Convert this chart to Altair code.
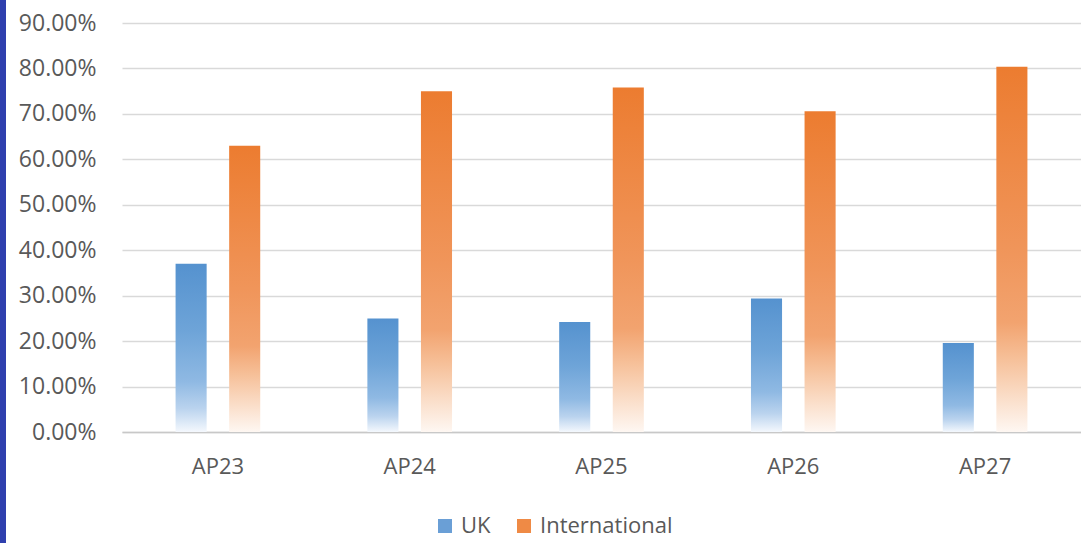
import altair as alt
import pandas as pd

# Share of students by origin for each admission period
categories = ["AP23", "AP24", "AP25", "AP26", "AP27"]
groups = ["UK", "International"]
uk_share = [0.370, 0.250, 0.242, 0.294, 0.196]
intl_share = [0.630, 0.750, 0.758, 0.706, 0.804]
y_ticks = [0.0, 0.1, 0.2, 0.3, 0.4, 0.5, 0.6, 0.7, 0.8, 0.9]

rows = []
for cat, u, i in zip(categories, uk_share, intl_share):
    rows.append({"period": cat, "group": "UK", "share": u})
    rows.append({"period": cat, "group": "International", "share": i})
df = pd.DataFrame(rows)

FONT = "Open Sans"
TEXT = "#595959"


def vertical_fade(stops):
    return {
        "gradient": "linear",
        "x1": 0, "y1": 0, "x2": 0, "y2": 1,
        "stops": [{"offset": o, "color": c} for o, c in stops],
    }


blue_fill = vertical_fade([
    (0.0, "#5592cf"), (0.4, "#6ea4d8"), (0.7, "#8fb9e3"),
    (0.86, "#bad3ee"), (1.0, "#f4f8fd"),
])
orange_fill = vertical_fade([
    (0.0, "#ec7c30"), (0.5, "#f0955a"), (0.7, "#f2a36f"),
    (0.8, "#f6c099"), (0.9, "#fadcc6"), (1.0, "#fef7f2"),
])

x_enc = alt.X(
    "period:N", sort=categories,
    scale=alt.Scale(paddingInner=0, paddingOuter=0),
    axis=alt.Axis(
        title=None, labelAngle=0, ticks=False, grid=False,
        domainColor="#c8c8c8", domainWidth=1.5,
        labelFont=FONT, labelFontSize=22, labelColor=TEXT, labelPadding=24,
    ),
)
xoff_enc = alt.XOffset(
    "group:N", sort=groups,
    scale=alt.Scale(paddingInner=0.42, paddingOuter=1.0),
)
y_enc = alt.Y(
    "share:Q",
    scale=alt.Scale(domain=[0, 0.9], nice=False),
    axis=alt.Axis(
        title=None, format=".2%", values=y_ticks, domain=False, ticks=False,
        gridColor="#d9d9d9", gridWidth=1.5,
        labelFont=FONT, labelFontSize=23, labelColor=TEXT, labelPadding=26,
    ),
)

base = alt.Chart(df)

bars = base.mark_bar().encode(
    x=x_enc,
    xOffset=xoff_enc,
    y=y_enc,
    fill=alt.condition(
        alt.datum.group == "UK", alt.value(blue_fill), alt.value(orange_fill)
    ),
)

# Invisible layer that carries the series legend
legend_layer = base.mark_square(opacity=0).encode(
    x=x_enc,
    xOffset=xoff_enc,
    y=y_enc,
    color=alt.Color(
        "group:N", sort=groups,
        scale=alt.Scale(domain=groups, range=["#6a9fd6", "#ef8a45"]),
        legend=alt.Legend(
            title=None, orient="none", direction="horizontal",
            legendX=312, legendY=492,
            symbolType="square", symbolSize=196, symbolOpacity=1,
            symbolStrokeWidth=0,
            labelFont=FONT, labelFontSize=22, labelColor=TEXT,
            labelOffset=5, columnPadding=22,
        ),
    ),
)

# Navy accent strip along the left edge of the slide
strip = alt.Chart(alt.Data(values=[{}])).mark_rect(color="#2f3fae").encode(
    x=alt.value(-122), x2=alt.value(-116),
    y=alt.value(-23), y2=alt.value(520),
)

chart = alt.layer(strip, bars, legend_layer).properties(
    width=959,
    height=409,
    padding={"left": 122, "top": 23, "right": 0, "bottom": 111},
    autosize=alt.AutoSizeParams(type="none"),
    background="white",
).configure_view(stroke=None)

chart.save("out.html", embed_options={"renderer": "svg", "actions": False})
